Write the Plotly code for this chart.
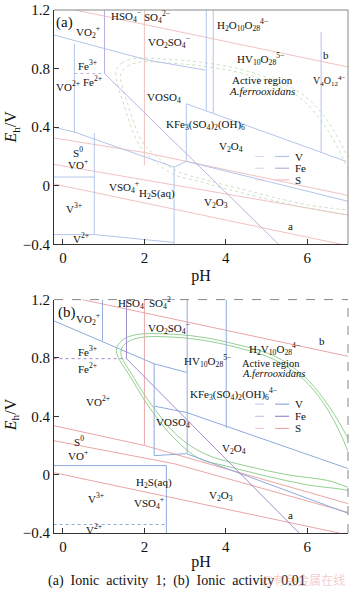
import plotly.graph_objects as go

# ---------------- data (pH, Eh / V) ----------------
ph_ticks = [0, 2, 4, 6]
eh_ticks = [-0.4, 0, 0.4, 0.8, 1.2]
eh_ticktext = ["−0.4", "0", "0.4", "0.8", "1.2"]

# panel (a): ionic activity 1
a_v_lines = [
    [(-0.23, 1.03), (2.05, 0.86), (3.49, 0.79)],
    [(0.28, 0.97), (0.28, 0.36)],
    [(-0.23, 0.40), (0.28, 0.367), (2.73, 0.127), (3.03, 0.167), (7.02, -0.107)],
    [(-0.23, 0.06), (0.77, 0.06)],
    [(0.77, 0.36), (0.77, -0.333)],
    [(-0.23, -0.333), (0.77, -0.333), (2.73, -0.387)],
    [(2.73, 0.127), (2.73, -0.4)],
    [(3.03, 0.56), (3.03, 0.167)],
    [(3.03, 0.56), (6.95, 0.167)],
    [(3.52, 1.2), (3.52, 0.51)],
    [(3.69, 1.2), (3.69, 0.49)],
    [(6.34, 1.05), (6.34, 0.233)],
]
a_fe_lines = [
    [(1.02, 1.2), (1.02, 0.767), (5.3, -0.4)],
]
a_fe_dotted = [
    [(0.28, 0.767), (1.02, 0.767)],
]
a_s_lines = [
    [(0.3, 1.2), (7.02, 0.81)],
    [(-0.23, 0.013), (6.85, -0.4)],
    [(2.0, 1.2), (2.0, 0.14)],
    [(-0.23, 0.327), (2.0, 0.227), (7.02, -0.067)],
    [(-0.23, 0.147), (7.02, -0.2)],
]
a_active_outer = [(1.3, 0.78), (1.45, 0.84), (1.8, 0.87), (2.5, 0.865), (3.35, 0.845),
                  (4.3, 0.8), (5.0, 0.74), (5.8, 0.64), (6.4, 0.48), (6.9, 0.25),
                  (7.3, 0.0), (7.4, -0.2), (7.0, -0.2), (6.0, -0.15), (5.0, -0.09),
                  (4.0, -0.02), (3.35, 0.03), (2.7, 0.08), (2.2, 0.18), (1.87, 0.28),
                  (1.5, 0.55), (1.3, 0.78)]
a_active_inner = [(1.42, 0.76), (1.58, 0.815), (1.9, 0.845), (2.5, 0.84), (3.35, 0.82),
                  (4.3, 0.775), (5.0, 0.715), (5.75, 0.615), (6.3, 0.46), (6.8, 0.23),
                  (7.15, 0.0), (7.2, -0.15), (6.5, -0.15), (5.5, -0.1), (4.5, -0.03),
                  (3.5, 0.04), (2.8, 0.1), (2.3, 0.2), (1.95, 0.3), (1.6, 0.55),
                  (1.42, 0.76)]

# panel (b): ionic activity 0.01
b_v_lines = [
    [(-0.23, 1.055), (2.24, 0.76), (3.05, 0.7)],
    [(0.97, 1.2), (0.97, 0.918)],
    [(2.24, 0.76), (2.24, 0.13)],
    [(3.05, 1.2), (3.05, 0.144)],
    [(4.01, 1.2), (4.01, 0.32)],
    [(2.24, 0.47), (3.05, 0.425), (7.02, 0.04)],
    [(2.24, 0.13), (3.03, 0.144), (7.02, -0.267)],
    [(-0.23, 0.062), (2.54, 0.062), (2.54, -0.4)],
]
b_v_dotted = [
    [(-0.23, -0.342), (2.54, -0.342)],
]
b_fe_lines = [
    [(1.56, 1.2), (1.56, 0.795), (5.8, -0.4)],
]
b_fe_dotted = [
    [(-0.23, 0.795), (1.56, 0.795)],
]
b_s_lines = [
    [(0.47, 1.2), (7.02, 0.81)],
    [(2.0, 1.2), (2.0, 0.2)],
    [(-0.23, 0.336), (2.0, 0.2), (7.02, -0.2)],
    [(-0.23, 0.233), (2.73, 0.075), (7.02, -0.26)],
    [(-0.23, 0.014), (6.78, -0.4)],
]
b_active_outer = [(1.31, 0.85), (1.45, 0.92), (1.8, 0.96), (2.5, 0.965), (3.35, 0.945),
                  (4.3, 0.89), (5.18, 0.815), (5.9, 0.68), (6.4, 0.52), (6.9, 0.30),
                  (7.3, 0.05), (7.4, -0.15), (7.02, -0.11), (6.0, -0.07), (5.0, -0.01),
                  (4.0, 0.06), (3.35, 0.11), (2.73, 0.25), (2.2, 0.43), (1.7, 0.65),
                  (1.31, 0.85)]
b_active_inner = [(1.42, 0.84), (1.56, 0.905), (1.9, 0.94), (2.5, 0.945), (3.35, 0.925),
                  (4.3, 0.87), (5.18, 0.79), (5.9, 0.655), (6.4, 0.49), (6.85, 0.26),
                  (7.2, 0.0), (7.3, -0.1), (6.5, -0.04), (5.5, 0.0), (4.5, 0.06),
                  (3.5, 0.14), (2.8, 0.27), (2.25, 0.45), (1.75, 0.66), (1.42, 0.84)]

# region labels (text, pH, Eh, anchor, size)
a_labels = [
    ("VO<sub>2</sub><sup>+</sup>", 0.62, 1.047, "center", 11),
    ("HSO<sub>4</sub><sup>−</sup>", 1.56, 1.16, "center", 11),
    ("SO<sub>4</sub><sup>2−</sup>", 2.31, 1.15, "center", 11),
    ("VO<sub>2</sub>SO<sub>4</sub><sup>−</sup>", 2.61, 0.98, "center", 11),
    ("H<sub>2</sub>O<sub>10</sub>O<sub>28</sub><sup>4−</sup>", 4.4, 1.1, "center", 11),
    ("b", 6.46, 0.893, "center", 11),
    ("Fe<sup>3+</sup>", 0.6, 0.827, "center", 11),
    ("VO<sup>2+</sup>", -0.21, 0.68, "left", 11),
    ("Fe<sup>2+</sup>", 0.72, 0.713, "center", 11),
    ("HV<sub>10</sub>O<sub>28</sub><sup>5−</sup>", 4.86, 0.867, "center", 11),
    ("Active region", 4.89, 0.72, "center", 11),
    ("<i>A.ferrooxidans</i>", 4.89, 0.647, "center", 11),
    ("V<sub>4</sub>O<sub>12</sub><sup>4−</sup>", 6.98, 0.713, "right", 10),
    ("VOSO<sub>4</sub>", 2.49, 0.6, "center", 11),
    ("KFe<sub>3</sub>(SO<sub>4</sub>)<sub>2</sub>(OH)<sub>6</sub>", 2.49, 0.413, "left", 11),
    ("V<sub>2</sub>O<sub>4</sub>", 4.13, 0.267, "center", 11),
    ("S<sup>0</sup>", 0.36, 0.233, "center", 11),
    ("VO<sup>+</sup>", 0.36, 0.147, "center", 11),
    ("VSO<sub>4</sub><sup>+</sup>", 1.5, -0.007, "center", 11),
    ("H<sub>2</sub>S(aq)", 2.3, -0.053, "center", 11),
    ("V<sup>3+</sup>", 0.28, -0.153, "center", 11),
    ("V<sub>2</sub>O<sub>3</sub>", 3.76, -0.12, "center", 11),
    ("a", 5.6, -0.273, "center", 11),
    ("V<sup>2+</sup>", 0.45, -0.355, "center", 11),
]
b_labels = [
    ("VO<sub>2</sub><sup>+</sup>", 0.62, 1.068, "center", 11),
    ("HSO<sub>4</sub><sup>−</sup>", 1.71, 1.18, "center", 11),
    ("SO<sub>4</sub><sup>2−</sup>", 2.44, 1.18, "center", 11),
    ("VO<sub>2</sub>SO<sub>4</sub><sup>−</sup>", 2.61, 1.007, "center", 11),
    ("Fe<sup>3+</sup>", 0.6, 0.85, "center", 11),
    ("Fe<sup>2+</sup>", 0.6, 0.733, "center", 11),
    ("VO<sup>2+</sup>", 0.85, 0.507, "center", 11),
    ("HV<sub>10</sub>O<sub>28</sub><sup>5−</sup>", 3.55, 0.78, "center", 11),
    ("H<sub>2</sub>V<sub>10</sub>O<sub>28</sub><sup>4−</sup>", 5.2, 0.862, "center", 11),
    ("b", 6.36, 0.918, "center", 11),
    ("Active region", 5.11, 0.765, "center", 10.5),
    ("<i>A.ferrooxidans</i>", 5.18, 0.69, "center", 10.5),
    ("KFe<sub>3</sub>(SO<sub>4</sub>)<sub>2</sub>(OH)<sub>6</sub><sup>4−</sup>", 4.2, 0.555, "center", 11),
    ("VOSO<sub>4</sub>", 2.71, 0.356, "center", 11),
    ("S<sup>0</sup>", 0.4, 0.233, "center", 11),
    ("VO<sup>+</sup>", 0.36, 0.137, "center", 11),
    ("H<sub>2</sub>S(aq)", 2.24, -0.055, "center", 11),
    ("V<sup>3+</sup>", 0.82, -0.158, "center", 11),
    ("VSO<sub>4</sub><sup>+</sup>", 2.12, -0.192, "center", 11),
    ("V<sup>2+</sup>", 0.77, -0.37, "center", 11),
    ("V<sub>2</sub>O<sub>4</sub>", 4.2, 0.178, "center", 11),
    ("V<sub>2</sub>O<sub>3</sub>", 3.88, -0.144, "center", 11),
    ("a", 5.6, -0.28, "center", 11),
]
legend_names = ["V", "Fe", "S"]
caption = "(a)  Ionic  activity  1;  (b)  Ionic  activity  0.01"
watermark = "@有色金属在线"

# ---------------- styling ----------------
FONT = "Liberation Serif"
STY = {
    "a": {"V": "#b4c5e8", "Fe": "#bcb1de", "S": "#f0c2c2", "G": "#c8e2c0"},
    "b": {"V": "#8fabdc", "Fe": "#a08ccc", "S": "#eaa6a6", "G": "#93cf90"},
}

fig = go.Figure()


def add_lines(lines, xa, ya, color, dash="solid", width=1.0, shape="linear"):
    for seg in lines:
        fig.add_trace(go.Scatter(
            x=[p[0] for p in seg], y=[p[1] for p in seg], mode="lines",
            line=dict(color=color, width=width, dash=dash, shape=shape),
            xaxis=xa, yaxis=ya, showlegend=False, hoverinfo="skip"))


# panel (a)
add_lines(a_s_lines, "x", "y", STY["a"]["S"])
add_lines([a_active_outer, a_active_inner], "x", "y", STY["a"]["G"], dash="dot", shape="spline")
add_lines(a_v_lines, "x", "y", STY["a"]["V"])
add_lines(a_fe_lines, "x", "y", STY["a"]["Fe"])
add_lines(a_fe_dotted, "x", "y", STY["a"]["Fe"], dash="dot")

# panel (b)
add_lines(b_s_lines, "x2", "y2", STY["b"]["S"])
add_lines([b_active_outer, b_active_inner], "x2", "y2", STY["b"]["G"], shape="spline")
add_lines(b_v_lines, "x2", "y2", STY["b"]["V"])
add_lines(b_v_dotted, "x2", "y2", STY["b"]["V"], dash="dot")
add_lines(b_fe_lines, "x2", "y2", STY["b"]["Fe"])
add_lines(b_fe_dotted, "x2", "y2", STY["b"]["Fe"], dash="dot")


def ann(text, x, y, xref, yref, size=11, xanchor="center", **kw):
    d = dict(text=text, x=x, y=y, xref=xref, yref=yref, showarrow=False,
             xanchor=xanchor, yanchor="middle",
             font=dict(family=FONT, size=size, color="#111"))
    d.update(kw)
    return d


annotations = []
for lab, xx, yy, anc, sz in a_labels:
    annotations.append(ann(lab, xx, yy, "x", "y", size=sz, xanchor=anc))
for lab, xx, yy, anc, sz in b_labels:
    annotations.append(ann(lab, xx, yy, "x2", "y2", size=sz, xanchor=anc))
annotations.append(ann("(a)", 0.035, 0.946, "x domain", "y domain", size=15))
annotations.append(ann("(b)", 0.044, 0.945, "x2 domain", "y2 domain", size=15))

shapes = []
# legends drawn inside panels
for panel, xr, yr, ys in (("a", "x domain", "y domain", [0.375, 0.325, 0.275]),
                          ("b", "x2 domain", "y2 domain", [0.552, 0.500, 0.448])):
    for name, yv in zip(legend_names, ys):
        col = STY[panel][name]
        shapes.append(dict(type="line", xref=xr, yref=yr, x0=0.684, x1=0.735, y0=yv, y1=yv,
                           line=dict(color=col, width=1, dash="dash"), opacity=0.6))
        shapes.append(dict(type="line", xref=xr, yref=yr, x0=0.752, x1=0.80, y0=yv, y1=yv,
                           line=dict(color=col, width=1.2)))
        annotations.append(ann(name, 0.812, yv, xr, yr, size=11, xanchor="left"))

# frame lines: panel (a) solid grey top/right, panel (b) dashed grey top/right
shapes.append(dict(type="line", xref="x domain", yref="y domain", x0=0, x1=1, y0=1, y1=1,
                   line=dict(color="#888", width=1)))
shapes.append(dict(type="line", xref="x domain", yref="y domain", x0=1, x1=1, y0=0, y1=1,
                   line=dict(color="#888", width=1)))
shapes.append(dict(type="line", xref="x2 domain", yref="y2 domain", x0=0, x1=1, y0=1, y1=1,
                   line=dict(color="#888", width=1, dash="dash")))
shapes.append(dict(type="line", xref="x2 domain", yref="y2 domain", x0=1, x1=1, y0=0, y1=1,
                   line=dict(color="#888", width=1, dash="dash")))

# y-axis titles
for yc in (0.776, 0.226):
    annotations.append(ann("<i>E</i><sub>h</sub>/V", -0.145, yc, "paper", "paper", size=16,
                           textangle=-90))
annotations.append(ann(caption, 0.42, -0.0925, "paper", "paper", size=14))
annotations.append(dict(text=watermark, x=0.995, y=-0.0895, xref="paper", yref="paper",
                        xanchor="right", yanchor="middle", showarrow=False,
                        font=dict(family="Noto Sans CJK SC", size=12,
                                  color="rgba(230,140,140,0.45)")))

axis_common = dict(showgrid=False, zeroline=False, showline=True, linecolor="#333", linewidth=1,
                   ticks="inside", ticklen=5, tickcolor="#333",
                   tickfont=dict(family=FONT, size=15, color="#111"))

fig.update_layout(
    width=350, height=590, margin=dict(l=54, r=2, t=2, b=57),
    paper_bgcolor="white", plot_bgcolor="white", showlegend=False,
    xaxis=dict(domain=[0, 1], anchor="y", range=[-0.22, 7.0], tickvals=ph_ticks,
               title=dict(text="pH", standoff=4, font=dict(family=FONT, size=16, color="#111")),
               **axis_common),
    yaxis=dict(domain=[0.5518, 1], anchor="x", range=[-0.4, 1.2], tickvals=eh_ticks,
               ticktext=eh_ticktext, **axis_common),
    xaxis2=dict(domain=[0, 1], anchor="y2", range=[-0.22, 7.0], tickvals=ph_ticks,
                title=dict(text="pH", standoff=1, font=dict(family=FONT, size=16, color="#111")),
                **axis_common),
    yaxis2=dict(domain=[0, 0.4463], anchor="x2", range=[-0.4, 1.2], tickvals=eh_ticks,
                ticktext=eh_ticktext, **axis_common),
    annotations=annotations, shapes=shapes,
)

fig.write_html("out.html")
